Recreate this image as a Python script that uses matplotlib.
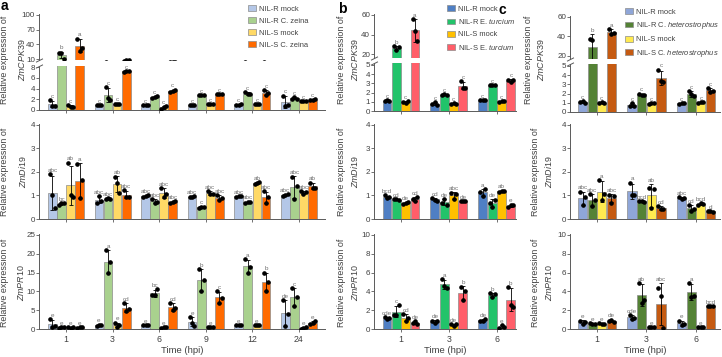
import numpy as np
import matplotlib.pyplot as plt
from matplotlib.patches import Patch

plt.rcParams['font.family'] = ['Liberation Sans', 'DejaVu Sans']
plt.rcParams['mathtext.fontset'] = 'custom'
plt.rcParams['mathtext.rm'] = 'Liberation Sans'
plt.rcParams['mathtext.it'] = 'Liberation Sans:italic'

# -----------------------------
# Datos (réplicas)
# -----------------------------
times_a = ['1', '3', '6', '9', '12', '24']
times_bc = ['1', '3', '6']

labels_a = ['NIL-R mock', 'NIL-R C. zeina', 'NIL-S mock', 'NIL-S C. zeina']
labels_b = ['NIL-R mock', 'NIL-R E. $\\it{turcium}$', 'NIL-S mock', 'NIL-S E. $\\it{turcium}$']
labels_c = ['NIL-R mock', 'NIL-R C. $\\it{heterostrophus}$', 'NIL-S mock',
            'NIL-S C. $\\it{heterostrophus}$']

colors_a = ['#b4c7e7', '#a9d18e', '#ffd966', '#ff6a00']
colors_b = ['#4f7fc4', '#22c36a', '#ffc000', '#ff5e69']
colors_c = ['#8fa6d8', '#548235', '#ffea50', '#c55a11']

# orden: NIL-R mock, NIL-R infect., NIL-S mock, NIL-S infect.
a_cpk39 = [
    [(1.8, 0.8, 0.8), (0.9, 0.9, 1.0), (1.0, 1.0, 1.0), (0.9, 0.9, 0.9), (1.0, 1.0, 1.1), (2.7, 0.8, 1.0)],
    [(23, 22, 11), (4.2, 2.2, 1.8), (2.3, 2.4, 2.6), (2.8, 2.8, 2.8), (3.4, 2.9, 2.9), (2.0, 2.4, 2.1)],
    [(1.0, 0.6, 0.6), (1.2, 1.2, 1.2), (0.2, 0.5, 0.8), (1.1, 1.1, 1.1), (1.1, 1.1, 1.1), (1.6, 1.6, 1.6)],
    [(52, 27, 32), (7.1, 7.2, 7.3), (3.4, 3.6, 3.8), (2.9, 3.0, 3.0), (3.7, 2.8, 3.1), (1.8, 1.9, 2.0)],
]
a_di19 = [
    [(1.9, 1.0, 0.45), (0.68, 0.97, 0.78), (0.95, 0.98, 1.0), (0.93, 0.95, 0.97), (0.93, 0.97, 0.98), (0.98, 1.0, 1.05)],
    [(0.6, 0.66, 0.66), (0.83, 0.88, 0.87), (0.84, 0.7, 0.74), (0.45, 0.5, 0.53), (0.7, 0.72, 0.74), (1.8, 0.87, 1.4)],
    [(2.4, 1.0, 0.92), (1.8, 1.55, 1.12), (1.33, 0.92, 1.08), (1.2, 1.05, 1.05), (1.5, 1.55, 1.57), (1.2, 1.05, 1.13)],
    [(2.35, 0.88, 1.65), (1.22, 0.95, 0.95), (0.7, 0.73, 0.78), (1.0, 0.8, 0.9), (1.17, 0.7, 0.92), (1.55, 1.3, 1.33)],
]
a_pr10 = [
    [(2.6, 0.6, 0.8), (0.8, 1.1, 1.1), (1.0, 1.1, 1.1), (3.2, 1.6, 0.9), (1.0, 1.0, 1.0), (7.8, 0.9, 4.0)],
    [(0.3, 0.5, 0.4), (21, 15, 17.8), (9.0, 9.0, 10.5), (16, 10, 13), (18.5, 15, 16.6), (11, 6, 8.5)],
    [(0.4, 0.2, 0.6), (1.7, 0.6, 1.1), (0.3, 0.4, 0.5), (0.6, 0.6, 0.5), (1.1, 1.1, 1.1), (0.1, 0.3, 0.5)],
    [(0.3, 0.5, 0.6), (7.0, 4.8, 5.3), (7.0, 5.0, 5.7), (10, 7, 8.2), (15, 10, 12.5), (1.4, 1.6, 2.1)],
]
b_cpk39 = [
    [(1.1, 1.15, 1.05), (0.75, 0.95, 0.7), (1.2, 1.15, 1.2)],
    [(28, 24, 27), (1.75, 1.8, 1.75), (2.8, 2.8, 2.85)],
    [(1.0, 0.9, 1.05), (0.8, 0.85, 0.8), (1.0, 1.1, 1.1)],
    [(56, 44, 33), (3.2, 2.5, 2.5), (3.4, 3.1, 3.4)],
]
b_di19 = [
    [(1.0, 0.9, 0.93), (0.9, 0.82, 0.78), (1.15, 0.98, 1.28)],
    [(0.83, 0.85, 0.8), (0.68, 0.85, 0.6), (0.7, 0.5, 0.82)],
    [(0.65, 0.7, 0.72), (1.12, 0.83, 1.05), (1.15, 1.2, 1.2)],
    [(0.83, 0.78, 0.95), (0.78, 0.75, 0.75), (0.5, 0.6, 0.58)],
]
b_pr10 = [
    [(1.3, 1.1, 1.2), (0.9, 0.6, 0.8), (0.9, 0.8, 1.1)],
    [(1.5, 1.5, 2.5), (5.3, 4.6, 4.4), (3.8, 3.4, 3.7)],
    [(1.6, 0.8, 1.2), (0.5, 0.35, 0.5), (0.15, 0.4, 0.2)],
    [(0.6, 0.8, 0.55), (4.5, 3.05, 4.0), (4.5, 2.6, 2.3)],
]
c_cpk39 = [
    [(1.05, 1.2, 0.95), (0.6, 0.95, 0.7), (0.9, 0.95, 1.0)],
    [(37, 36, 13), (2.0, 1.85, 1.85), (2.3, 1.9, 1.7)],
    [(1.0, 1.05, 1.0), (0.9, 1.0, 0.95), (1.0, 1.1, 1.1)],
    [(48, 43, 44), (4.6, 3.4, 3.2), (2.6, 2.2, 2.3)],
]
c_di19 = [
    [(1.15, 0.6, 0.92), (1.55, 1.0, 1.0), (0.93, 0.85, 0.9)],
    [(1.05, 0.55, 0.8), (0.75, 0.75, 0.74), (0.6, 0.35, 0.42)],
    [(1.65, 0.8, 1.05), (1.3, 0.45, 1.27), (0.6, 0.66, 0.64)],
    [(1.0, 0.7, 0.98), (0.55, 0.42, 0.42), (0.32, 0.35, 0.3)],
]
c_pr10 = [
    [(0.9, 0.55, 0.77), (1.5, 1.1, 1.2), (0.9, 0.4, 0.5)],
    [(0.6, 0.5, 0.55), (4.9, 2.8, 3.1), (4.9, 3.4, 3.5)],
    [(0.6, 0.5, 0.55), (0.25, 0.2, 0.2), (0.2, 0.2, 0.25)],
    [(0.85, 1.0, 0.7), (4.4, 3.5, 0.15), (2.4, 2.4, 2.45)],
]

# letras de significancia
let_a_cpk = [['c'] * 6, ['b'] + ['c'] * 5, ['c'] * 6, ['a'] + ['c'] * 5]
let_a_di = [['abc'] * 6, ['bc', 'abc', 'abc', 'c', 'abc', 'abc'],
            ['ab', 'ab', 'abc', 'abc', 'ab', 'abc'], ['a', 'abc', 'abc', 'abc', 'abc', 'ab']]
let_a_pr = [['e', 'e', 'e', 'e', 'e', 'de'], ['e', 'a', 'bc', 'b', 'a', 'c'],
            ['e'] * 6, ['e', 'cd', 'cd', 'c', 'b', 'e']]
let_b_cpk = [['c'] * 3, ['b', 'c', 'c'], ['c'] * 3, ['a', 'c', 'c']]
let_b_di = [['bcd', 'cd', 'a'], ['cd', 'de', 'de'], ['de', 'abc', 'ab'], ['cd', 'de', 'e']]
let_b_pr = [['cde', 'de', 'de'], ['c', 'a', 'b'], ['cd', 'de', 'e'], ['de', 'b', 'b']]
let_c_cpk = [['c'] * 3, ['b', 'c', 'c'], ['c'] * 3, ['a', 'c', 'c']]
let_c_di = [['abc', 'a', 'abc'], ['abc', 'bcd', 'cd'], ['a', 'ab', 'bcd'], ['abc', 'cd', 'd']]
let_c_pr = [['e', 'cde', 'e'], ['e', 'ab', 'a'], ['e', 'e', 'e'], ['de', 'abc', 'bcd']]

# -----------------------------
# Figura
# -----------------------------
W, H = 722, 357
fig = plt.figure(figsize=(W / 100, H / 100), dpi=100)
GRIS = '#5a5a5a'
TXT = '#404040'


def ejes(x0, x1, y0, y1):
    return fig.add_axes([x0 / W, 1 - y1 / H, (x1 - x0) / W, (y1 - y0) / H])


def estilo(ax, xlim, ylim, yticks, xt_labels=None, n=6, inferior=True):
    ax.set_xlim(*xlim)
    ax.set_ylim(*ylim)
    ax.set_yticks(yticks)
    for s in ['top', 'right']:
        ax.spines[s].set_visible(False)
    for s in ['left', 'bottom']:
        ax.spines[s].set_color(GRIS)
        ax.spines[s].set_linewidth(0.7)
    ax.tick_params(direction='out', length=2, width=0.6, color=GRIS,
                   labelsize=5.8, labelcolor=TXT, pad=0.8)
    if inferior:
        ax.set_xticks(np.arange(n))
        if xt_labels is None:
            ax.set_xticklabels([])
        else:
            ax.set_xticklabels(xt_labels, fontsize=6.3)
            ax.tick_params(axis='x', pad=2.5)
    else:
        ax.spines['bottom'].set_visible(False)
        ax.set_xticks([])


def barras(ax, reps, colores):
    n = len(reps[0])
    x = np.arange(n)
    for i, (serie, col) in enumerate(zip(reps, colores)):
        arr = np.array(serie, dtype=float)
        media = arr.mean(axis=1)
        sd = arr.std(axis=1, ddof=1)
        pos = x + (i - 1.5) * 0.195
        ax.bar(pos, media, 0.185, color=col, edgecolor='#8c8c8c', linewidth=0.5, zorder=2)
        ax.errorbar(pos, media, yerr=sd, fmt='none', ecolor='black', elinewidth=0.6,
                    capsize=1.5, capthick=0.6, zorder=3)
        for k in range(3):
            ax.plot(pos + (k - 1) * 0.05, arr[:, k], 'o', ms=2.3, color='black', zorder=4)


def letras(ax_bajo, ax_alto, reps, lets):
    n = len(reps[0])
    x = np.arange(n)
    lim = ax_bajo.get_ylim()[1]
    for i, serie in enumerate(reps):
        arr = np.array(serie, dtype=float)
        media = arr.mean(axis=1)
        sd = arr.std(axis=1, ddof=1)
        tope = np.maximum(media + sd, arr.max(axis=1))
        pos = x + (i - 1.5) * 0.195
        for j in range(n):
            ax = ax_alto if (ax_alto is not None and tope[j] > lim) else ax_bajo
            ax.annotate(lets[i][j], (pos[j], tope[j]), xytext=(0, 0.8),
                        textcoords='offset points', ha='center', va='bottom',
                        fontsize=4.6, color='#707070', annotation_clip=False)


def corte(ax, y):
    ax.plot([0], [y], transform=ax.transAxes, marker=[(-1, -0.5), (1, 0.5)],
            markersize=5, linestyle='none', color=GRIS, mec=GRIS, mew=0.7, clip_on=False)


paneles = [
    dict(x0=39, x1=325, xlim=(-0.58, 5.56), n=6, times=times_a, col=colors_a,
         lab=labels_a, data=[a_cpk39, a_di19, a_pr10],
         lets=[let_a_cpk, let_a_di, let_a_pr],
         up=(14, 60, (8.2, 102), [10, 40, 70, 100]), lo=(66, 110, (0, 8.2), [0, 2, 4, 6, 8]),
         bot=((0, 25.25), [0, 5, 10, 15, 20, 25]),
         yl=[(5, 22), (5, 22.5), (4.5, 21.5)], leg=(248, 5), letra=(4, 6, 'a')),
    dict(x0=374, x1=516, xlim=(-0.5625, 2.4), n=3, times=times_bc, col=colors_b,
         lab=labels_b, data=[b_cpk39, b_di19, b_pr10],
         lets=[let_b_cpk, let_b_di, let_b_pr],
         up=(14, 58, (16, 61), [20, 40, 60]), lo=(63, 111, (0, 5.2), [0, 1, 2, 3, 4, 5]),
         bot=((0, 10.1), [0, 2, 4, 6, 8, 10]),
         yl=[(341.5, 355), (341, 355), (341, 355)], leg=(447, 5), letra=(342, 9, 'b')),
    dict(x0=570, x1=720, xlim=(-0.545, 2.485), n=3, times=times_bc, col=colors_c,
         lab=labels_c, data=[c_cpk39, c_di19, c_pr10],
         lets=[let_c_cpk, let_c_di, let_c_pr],
         up=(16, 59, (16.8, 61), [20, 40, 60]), lo=(64, 112, (0, 5.2), [0, 1, 2, 3, 4, 5]),
         bot=((0, 10.1), [0, 2, 4, 6, 8, 10]),
         yl=[(528.5, 541.5), (536, 548.5), (536, 548.5)], leg=(625, 8), letra=(502, 10, 'c')),
]

genes = ['ZmCPK39', 'ZmDi19', 'ZmPR10']
centros_y = [60, 172, 283]

for p in paneles:
    # fila superior con eje cortado
    y0, y1, ylim, yt = p['up']
    ax_up = ejes(p['x0'], p['x1'], y0, y1)
    estilo(ax_up, p['xlim'], ylim, yt, n=p['n'], inferior=False)
    y0, y1, ylim, yt = p['lo']
    ax_lo = ejes(p['x0'], p['x1'], y0, y1)
    estilo(ax_lo, p['xlim'], ylim, yt, n=p['n'])
    for ax in (ax_up, ax_lo):
        barras(ax, p['data'][0], p['col'])
    letras(ax_lo, ax_up, p['data'][0], p['lets'][0])
    corte(ax_up, 0)
    corte(ax_lo, 1)

    # fila media
    ax_mid = ejes(p['x0'], p['x1'], 124, 219)
    estilo(ax_mid, p['xlim'], (0, 4.04), [0, 1, 2, 3, 4], n=p['n'])
    barras(ax_mid, p['data'][1], p['col'])
    letras(ax_mid, None, p['data'][1], p['lets'][1])

    # fila inferior
    ylim, yt = p['bot']
    ax_bot = ejes(p['x0'], p['x1'], 234, 329)
    estilo(ax_bot, p['xlim'], ylim, yt, xt_labels=p['times'], n=p['n'])
    barras(ax_bot, p['data'][2], p['col'])
    letras(ax_bot, None, p['data'][2], p['lets'][2])
    ax_bot.set_xlabel('Time (hpi)', fontsize=6.8, color=TXT, labelpad=1)

    # etiquetas del eje y
    for (xa, xb), gen, yc in zip(p['yl'], genes, centros_y):
        fig.text(xa / W, 1 - yc / H, 'Relative expression of', rotation=90,
                 ha='center', va='center', fontsize=6.4, color=TXT)
        fig.text(xb / W, 1 - yc / H, '$\\it{' + gen + '}$', rotation=90,
                 ha='center', va='center', fontsize=6.4, color=TXT)

    # leyenda
    manejadores = [Patch(facecolor=c, edgecolor='#8c8c8c', linewidth=0.5) for c in p['col']]
    fig.legend(manejadores, p['lab'], loc='upper left',
               bbox_to_anchor=(p['leg'][0] / W, 1 - p['leg'][1] / H), frameon=False,
               fontsize=5.4, handlelength=1.0, handleheight=0.85, handletextpad=0.5,
               labelspacing=0.6, borderaxespad=0, borderpad=0, labelcolor=TXT)

    lx, ly, lt = p['letra']
    fig.text(lx / W, 1 - ly / H, lt, fontsize=10, fontweight='bold', ha='center',
             va='center', color='black')

plt.savefig('out.png', dpi=100)
